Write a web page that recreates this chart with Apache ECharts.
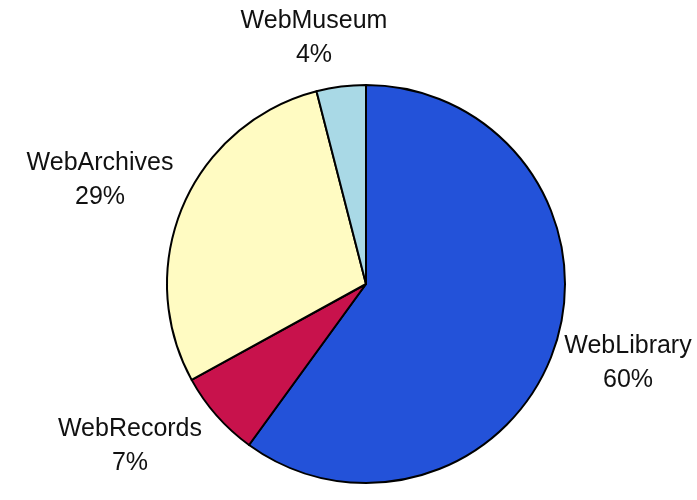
<!DOCTYPE html>
<html>
<head>
<meta charset="utf-8">
<script src="https://cdn.jsdelivr.net/npm/echarts@6/dist/echarts.min.js"></script>
<style>html,body{margin:0;padding:0;background:#fff;}#c{width:697px;height:500px;}</style>
</head>
<body>
<div id="c"></div>
<script>
const categories = ['WebLibrary', 'WebRecords', 'WebArchives', 'WebMuseum'];
const values = [60, 7, 29, 4];
const colors = ['#2352D9', '#C8124C', '#FFFBC2', '#A9D9E6'];
const labelCenters = [[628, 363], [130, 446], [100, 180], [314, 38]];

const chart = echarts.init(document.getElementById('c'));
chart.setOption({
  backgroundColor: '#ffffff',
  animation: false,
  series: [{
    type: 'pie',
    center: [366, 284],
    radius: 199,
    startAngle: 90,
    clockwise: true,
    data: categories.map((n, i) => ({ name: n, value: values[i], itemStyle: { color: colors[i] } })),
    itemStyle: { borderColor: '#000', borderWidth: 2 },
    label: {
      show: true,
      position: 'outside',
      formatter: '{b}\n{d}%',
      fontFamily: 'Liberation Sans, Arial, sans-serif',
      fontSize: 25,
      lineHeight: 34,
      color: '#111',
      align: 'center',
      overflow: 'none',
      bleedMargin: 0
    },
    labelLine: { show: false },
    labelLayout: function (p) {
      const c = labelCenters[p.dataIndex];
      return { x: c[0], y: c[1], align: 'center', verticalAlign: 'middle' };
    }
  }]
});
</script>
</body>
</html>
